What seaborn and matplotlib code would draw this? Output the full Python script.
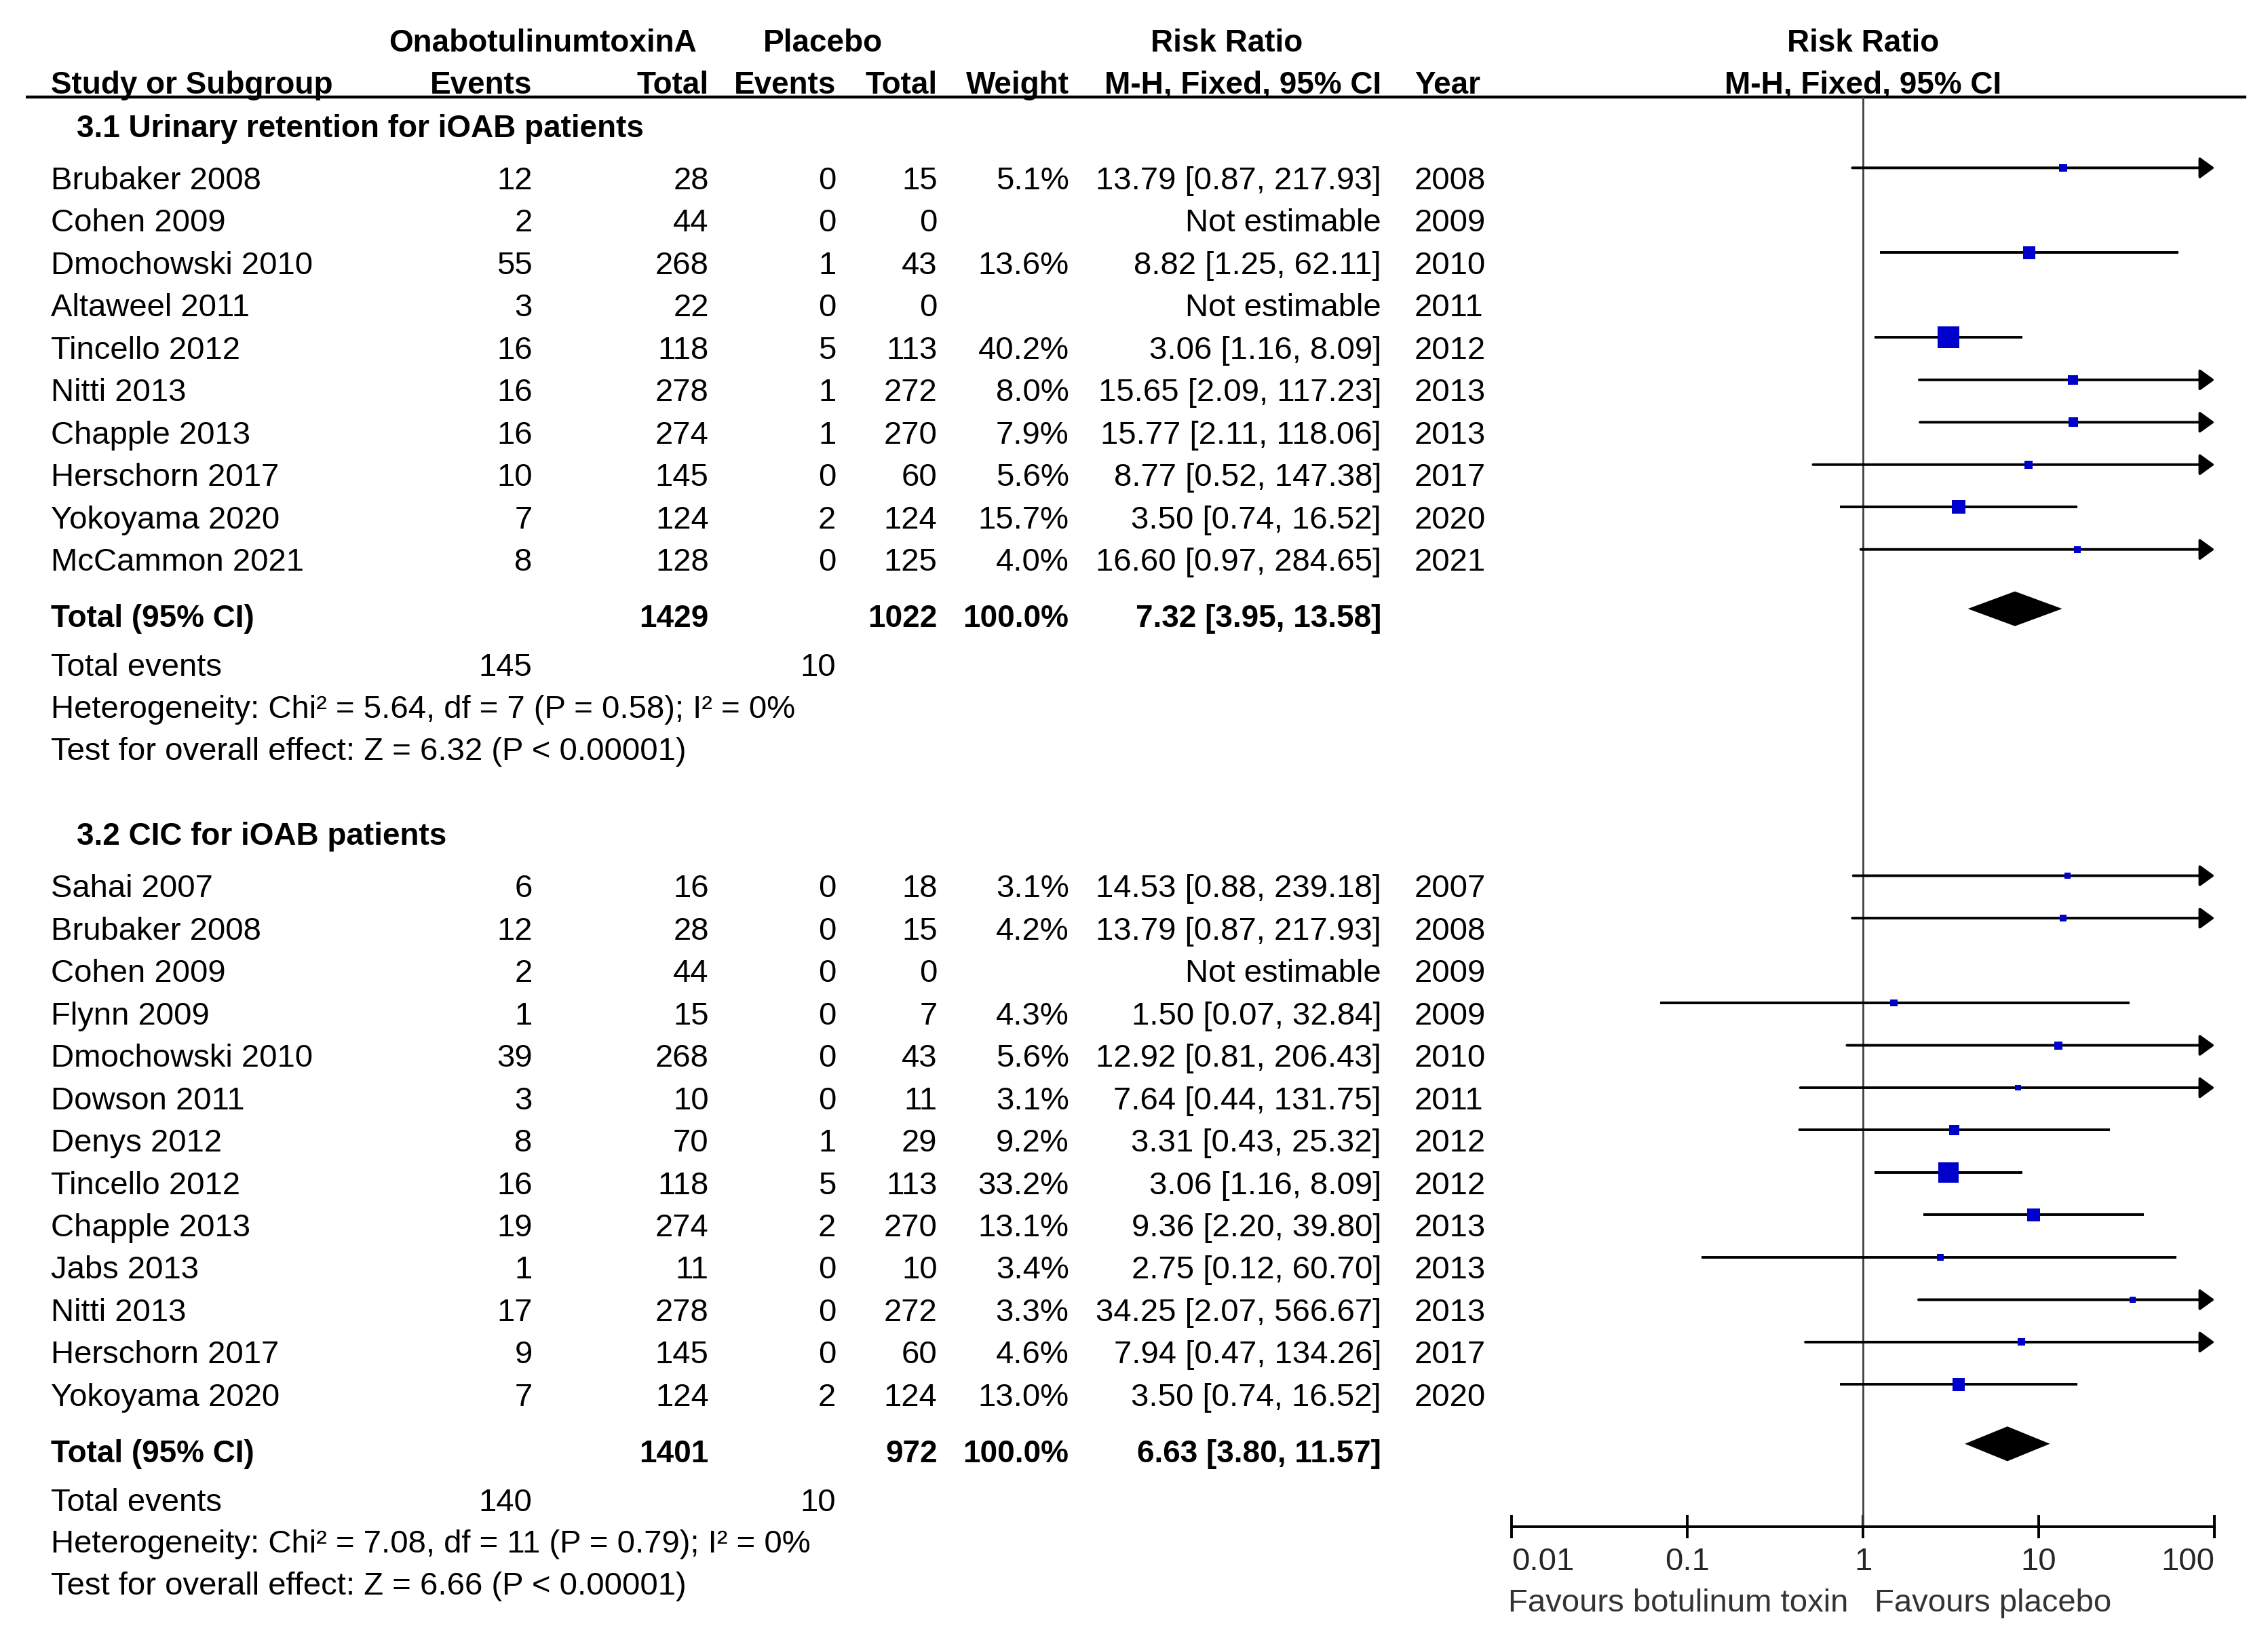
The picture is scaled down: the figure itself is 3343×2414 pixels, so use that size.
import matplotlib

matplotlib.use("Agg")
import matplotlib.pyplot as plt
import numpy as np
import pandas as pd
import seaborn as sns

# ---- data: 3.1 urinary retention -------------------------------------------
ur_study = ["Brubaker 2008", "Cohen 2009", "Dmochowski 2010", "Altaweel 2011",
            "Tincello 2012", "Nitti 2013", "Chapple 2013", "Herschorn 2017",
            "Yokoyama 2020", "McCammon 2021"]
ur_ev_tox = [12, 2, 55, 3, 16, 16, 16, 10, 7, 8]
ur_n_tox = [28, 44, 268, 22, 118, 278, 274, 145, 124, 128]
ur_ev_pla = [0, 0, 1, 0, 5, 1, 1, 0, 2, 0]
ur_n_pla = [15, 0, 43, 0, 113, 272, 270, 60, 124, 125]
ur_weight = [5.1, None, 13.6, None, 40.2, 8.0, 7.9, 5.6, 15.7, 4.0]
ur_rr = [13.79, None, 8.82, None, 3.06, 15.65, 15.77, 8.77, 3.50, 16.60]
ur_lo = [0.87, None, 1.25, None, 1.16, 2.09, 2.11, 0.52, 0.74, 0.97]
ur_hi = [217.93, None, 62.11, None, 8.09, 117.23, 118.06, 147.38, 16.52, 284.65]
ur_year = [2008, 2009, 2010, 2011, 2012, 2013, 2013, 2017, 2020, 2021]
ur_pooled = (7.32, 3.95, 13.58)
ur_het = "Heterogeneity: Chi² = 5.64, df = 7 (P = 0.58); I² = 0%"
ur_test = "Test for overall effect: Z = 6.32 (P < 0.00001)"

# ---- data: 3.2 CIC ----------------------------------------------------------
cic_study = ["Sahai 2007", "Brubaker 2008", "Cohen 2009", "Flynn 2009",
             "Dmochowski 2010", "Dowson 2011", "Denys 2012", "Tincello 2012",
             "Chapple 2013", "Jabs 2013", "Nitti 2013", "Herschorn 2017",
             "Yokoyama 2020"]
cic_ev_tox = [6, 12, 2, 1, 39, 3, 8, 16, 19, 1, 17, 9, 7]
cic_n_tox = [16, 28, 44, 15, 268, 10, 70, 118, 274, 11, 278, 145, 124]
cic_ev_pla = [0, 0, 0, 0, 0, 0, 1, 5, 2, 0, 0, 0, 2]
cic_n_pla = [18, 15, 0, 7, 43, 11, 29, 113, 270, 10, 272, 60, 124]
cic_weight = [3.1, 4.2, None, 4.3, 5.6, 3.1, 9.2, 33.2, 13.1, 3.4, 3.3, 4.6, 13.0]
cic_rr = [14.53, 13.79, None, 1.50, 12.92, 7.64, 3.31, 3.06, 9.36, 2.75, 34.25, 7.94, 3.50]
cic_lo = [0.88, 0.87, None, 0.07, 0.81, 0.44, 0.43, 1.16, 2.20, 0.12, 2.07, 0.47, 0.74]
cic_hi = [239.18, 217.93, None, 32.84, 206.43, 131.75, 25.32, 8.09, 39.80, 60.70,
          566.67, 134.26, 16.52]
cic_year = [2007, 2008, 2009, 2009, 2010, 2011, 2012, 2012, 2013, 2013, 2013, 2017, 2020]
cic_pooled = (6.63, 3.80, 11.57)
cic_het = "Heterogeneity: Chi² = 7.08, df = 11 (P = 0.79); I² = 0%"
cic_test = "Test for overall effect: Z = 6.66 (P < 0.00001)"

tick_values = [0.01, 0.1, 1, 10, 100]
tick_labels = ["0.01", "0.1", "1", "10", "100"]

sections = [
    dict(title="3.1 Urinary retention for iOAB patients", study=ur_study,
         ev_tox=ur_ev_tox, n_tox=ur_n_tox, ev_pla=ur_ev_pla, n_pla=ur_n_pla,
         weight=ur_weight, rr=ur_rr, lo=ur_lo, hi=ur_hi, year=ur_year,
         pooled=ur_pooled, het=ur_het, test=ur_test),
    dict(title="3.2 CIC for iOAB patients", study=cic_study,
         ev_tox=cic_ev_tox, n_tox=cic_n_tox, ev_pla=cic_ev_pla, n_pla=cic_n_pla,
         weight=cic_weight, rr=cic_rr, lo=cic_lo, hi=cic_hi, year=cic_year,
         pooled=cic_pooled, het=cic_het, test=cic_test),
]

# ---- layout (units = reference pixels at 1568 wide) -------------------------
W, H = 1568, 1132
X_STUDY, X_SECTION = 35, 53
X_EV_TOX, X_N_TOX, X_EV_PLA, X_N_PLA = 368, 490, 578, 648
X_WEIGHT, X_CI, X_YEAR = 739, 955, 978
PLOT_L, PLOT_R, PLOT_TOP, PLOT_BOT = 1045, 1531, 67, 1055
FS = 17
FS_BOLD = 16.5
BASE = 7.8  # baseline offset from row centre

sns.set_theme(style="white")
plt.rcParams["font.family"] = ["Liberation Sans", "DejaVu Sans"]

fig = plt.figure(figsize=(3343 / 200, 2414 / 200), dpi=200)
tax = fig.add_axes([0, 0, 1, 1])
tax.set_xlim(0, W)
tax.set_ylim(H, 0)
tax.axis("off")

fax = fig.add_axes([PLOT_L / W, 1 - PLOT_BOT / H, (PLOT_R - PLOT_L) / W,
                    (PLOT_BOT - PLOT_TOP) / H])
fax.set_facecolor("none")


def txt(x, y, s, ha="left", bold=False, color="black"):
    tax.text(x, y + BASE, s, ha=ha, va="baseline",
             fontsize=FS_BOLD if bold else FS,
             fontweight="bold" if bold else "normal", color=color)


# header
txt(375, 28, "OnabotulinumtoxinA", ha="center", bold=True)
txt(569, 28, "Placebo", ha="center", bold=True)
txt(848, 28, "Risk Ratio", ha="center", bold=True)
txt(1288, 28, "Risk Ratio", ha="center", bold=True)
txt(X_STUDY, 57, "Study or Subgroup", bold=True)
for x, s in [(X_EV_TOX, "Events"), (X_N_TOX, "Total"), (X_EV_PLA, "Events"),
             (X_N_PLA, "Total"), (X_WEIGHT, "Weight"), (X_CI, "M-H, Fixed, 95% CI")]:
    txt(x, 57, s, ha="right", bold=True)
txt(X_YEAR, 57, "Year", bold=True)
txt(1288, 57, "M-H, Fixed, 95% CI", ha="center", bold=True)
tax.plot([18, 1553], [PLOT_TOP, PLOT_TOP], color="black", lw=1.6,
         solid_capstyle="butt")

rows = []      # estimable studies for the forest panel
pooled = []
y = 87
for i, sec in enumerate(sections):
    if i > 0:
        y += 59
    txt(X_SECTION, y, sec["title"], bold=True)
    y += 36
    for j, name in enumerate(sec["study"]):
        if j > 0:
            y += 29.3
        txt(X_STUDY, y, name)
        txt(X_EV_TOX, y, str(sec["ev_tox"][j]), ha="right")
        txt(X_N_TOX, y, str(sec["n_tox"][j]), ha="right")
        txt(X_EV_PLA, y, str(sec["ev_pla"][j]), ha="right")
        txt(X_N_PLA, y, str(sec["n_pla"][j]), ha="right")
        w = sec["weight"][j]
        if w is None:
            txt(X_CI, y, "Not estimable", ha="right")
        else:
            txt(X_WEIGHT, y, f"{w:.1f}%", ha="right")
            rr, lo, hi = sec["rr"][j], sec["lo"][j], sec["hi"][j]
            txt(X_CI, y, f"{rr:.2f} [{lo:.2f}, {hi:.2f}]", ha="right")
            rows.append(dict(rr=rr, lo=lo, hi=hi, weight=w, y=y - 7))
        txt(X_YEAR, y, str(sec["year"][j]))
    y += 39
    rr, lo, hi = sec["pooled"]
    txt(X_STUDY, y, "Total (95% CI)", bold=True)
    txt(X_N_TOX, y, str(sum(sec["n_tox"])), ha="right", bold=True)
    txt(X_N_PLA, y, str(sum(sec["n_pla"])), ha="right", bold=True)
    txt(X_WEIGHT, y, "100.0%", ha="right", bold=True)
    txt(X_CI, y, f"{rr:.2f} [{lo:.2f}, {hi:.2f}]", ha="right", bold=True)
    pooled.append(dict(rr=rr, lo=lo, hi=hi, y=y - 5))
    y += 33.5
    txt(X_STUDY, y, "Total events")
    txt(X_EV_TOX, y, str(sum(sec["ev_tox"])), ha="right")
    txt(X_EV_PLA, y, str(sum(sec["ev_pla"])), ha="right")
    y += 29
    txt(X_STUDY, y, sec["het"])
    y += 29
    txt(X_STUDY, y, sec["test"])

df = pd.DataFrame(rows)

# ---- forest panel ------------------------------------------------------------
fax.set_xscale("log")
xmin, xmax = tick_values[0], tick_values[-1]
for r in df.itertuples():
    lo_c, hi_c = max(r.lo, xmin), min(r.hi, xmax)
    if r.hi > xmax:
        fax.annotate("", xy=(xmax, r.y), xytext=(lo_c, r.y),
                     arrowprops=dict(arrowstyle="-|>,head_length=0.33,head_width=0.24",
                                     color="black", lw=1.4, shrinkA=0, shrinkB=0,
                                     mutation_scale=20), annotation_clip=False)
    else:
        fax.plot([lo_c, hi_c], [r.y, r.y], color="black", lw=1.4,
                 solid_capstyle="butt")

sns.scatterplot(data=df, x="rr", y="y", size="weight", sizes=(0, 135),
                size_norm=(0, 40.2), marker="s", color="#0000cc", linewidth=0,
                legend=False, ax=fax, zorder=3)

for p in pooled:
    half = 12
    fax.fill([p["lo"], p["rr"], p["hi"], p["rr"]],
             [p["y"], p["y"] - half, p["y"], p["y"] + half],
             color="black", lw=0, zorder=3)

fax.axvline(1, color="#404040", lw=1.0, zorder=1)
fax.set_xlim(xmin, xmax)
fax.set_ylim(PLOT_BOT, PLOT_TOP)
fax.set_xlabel("")
fax.set_ylabel("")
fax.set_yticks([])
for side in ["top", "left", "right"]:
    fax.spines[side].set_visible(False)
fax.spines["bottom"].set_color("black")
fax.spines["bottom"].set_linewidth(1.4)
fax.set_xticks(tick_values)
fax.set_xticklabels(tick_labels)
fax.minorticks_off()
fax.tick_params(axis="x", direction="inout", length=12, width=1.4,
                color="black", pad=5, labelsize=FS, bottom=True)
labels = fax.get_xticklabels()
labels[0].set_ha("left")
labels[-1].set_ha("right")

txt(1278, 1106, "Favours botulinum toxin", ha="right", color="#333333")
txt(1296, 1106, "Favours placebo", color="#333333")

fig.savefig("out.png", dpi=200)
